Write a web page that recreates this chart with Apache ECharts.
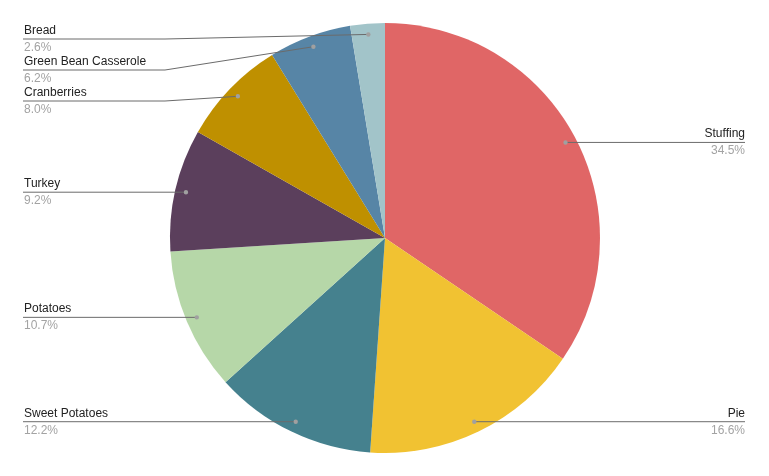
<!DOCTYPE html>
<html>
<head>
<meta charset="utf-8">
<script src="https://cdn.jsdelivr.net/npm/echarts@6/dist/echarts.min.js"></script>
<style>html,body{margin:0;padding:0;background:#fff}#c{width:769px;height:476px}</style>
</head>
<body>
<div id="c"></div>
<script>
const categories = ['Stuffing', 'Pie', 'Sweet Potatoes', 'Potatoes', 'Turkey', 'Cranberries', 'Green Bean Casserole', 'Bread'];
const values = [34.5, 16.6, 12.2, 10.7, 9.2, 8.0, 6.2, 2.6];
const percentLabels = ['34.5%', '16.6%', '12.2%', '10.7%', '9.2%', '8.0%', '6.2%', '2.6%'];
const colors = ['#e06666', '#f1c232', '#45818e', '#b6d7a8', '#5b3f5c', '#bf9000', '#5785a6', '#a2c4c9'];

const CX = 385, CY = 238, R = 215;
const DOT_R = 0.95 * R;
const LEFT_X = 23, RIGHT_X = 745, LEFT_ELBOW = 165, RIGHT_ELBOW = 605;
const TOP_MIN = 39, GAP = 31;

// geometry derived from data (for label placement only)
const total = values.reduce((a, b) => a + b, 0);
let cum = 0;
const geo = values.map((v, i) => {
  const a = (cum + v / 2) / total * Math.PI * 2;
  cum += v;
  const dx = CX + DOT_R * Math.sin(a), dy = CY - DOT_R * Math.cos(a);
  return { i, dot: [dx, dy], side: Math.sin(a) >= 0 ? 'right' : 'left', y: dy };
});
['left', 'right'].forEach(side => {
  const list = geo.filter(g => g.side === side).sort((a, b) => a.y - b.y);
  let prev = -Infinity;
  list.forEach(g => {
    g.y = Math.max(g.y, TOP_MIN, prev + GAP);
    prev = g.y;
  });
});

const FONT = 'Liberation Sans, Arial, sans-serif';
const lines = geo.map(g => ({
  type: 'polyline', z: 100, silent: true,
  shape: { points: g.side === 'left'
    ? [g.dot, [LEFT_ELBOW, g.y], [LEFT_X, g.y]]
    : [g.dot, [RIGHT_ELBOW, g.y], [RIGHT_X, g.y]] },
  style: { stroke: '#6b6b6b', lineWidth: 1, fill: null }
}));
const dots = geo.map(g => ({
  type: 'circle', z: 101, silent: true,
  shape: { cx: g.dot[0], cy: g.dot[1], r: 2.2 },
  style: { fill: '#a0a0a0' }
}));

const chart = echarts.init(document.getElementById('c'), null, { renderer: 'canvas' });
chart.setOption({
  backgroundColor: '#ffffff',
  animation: false,
  series: [{
    type: 'pie',
    center: [CX, CY],
    radius: R,
    startAngle: 90,
    clockwise: true,
    avoidLabelOverlap: false,
    emphasis: { disabled: true },
    data: categories.map((n, i) => ({ name: n, value: values[i], itemStyle: { color: colors[i] } })),
    label: {
      show: true,
      position: 'outer',
      fontFamily: FONT,
      formatter: p => '{n|' + p.name + '}\n{p|' + percentLabels[p.dataIndex] + '}',
      rich: {
        n: { fontSize: 12, color: '#222222', lineHeight: 17, fontFamily: FONT },
        p: { fontSize: 12, color: '#a3a3a3', lineHeight: 17, fontFamily: FONT }
      }
    },
    labelLine: { show: false },
    labelLayout: function (params) {
      const g = geo[params.dataIndex];
      if (g.side === 'left') {
        return { x: LEFT_X + 1, y: g.y, align: 'left', verticalAlign: 'middle' };
      }
      return { x: RIGHT_X, y: g.y, align: 'right', verticalAlign: 'middle' };
    }
  }],
  graphic: lines.concat(dots)
});
</script>
</body>
</html>
